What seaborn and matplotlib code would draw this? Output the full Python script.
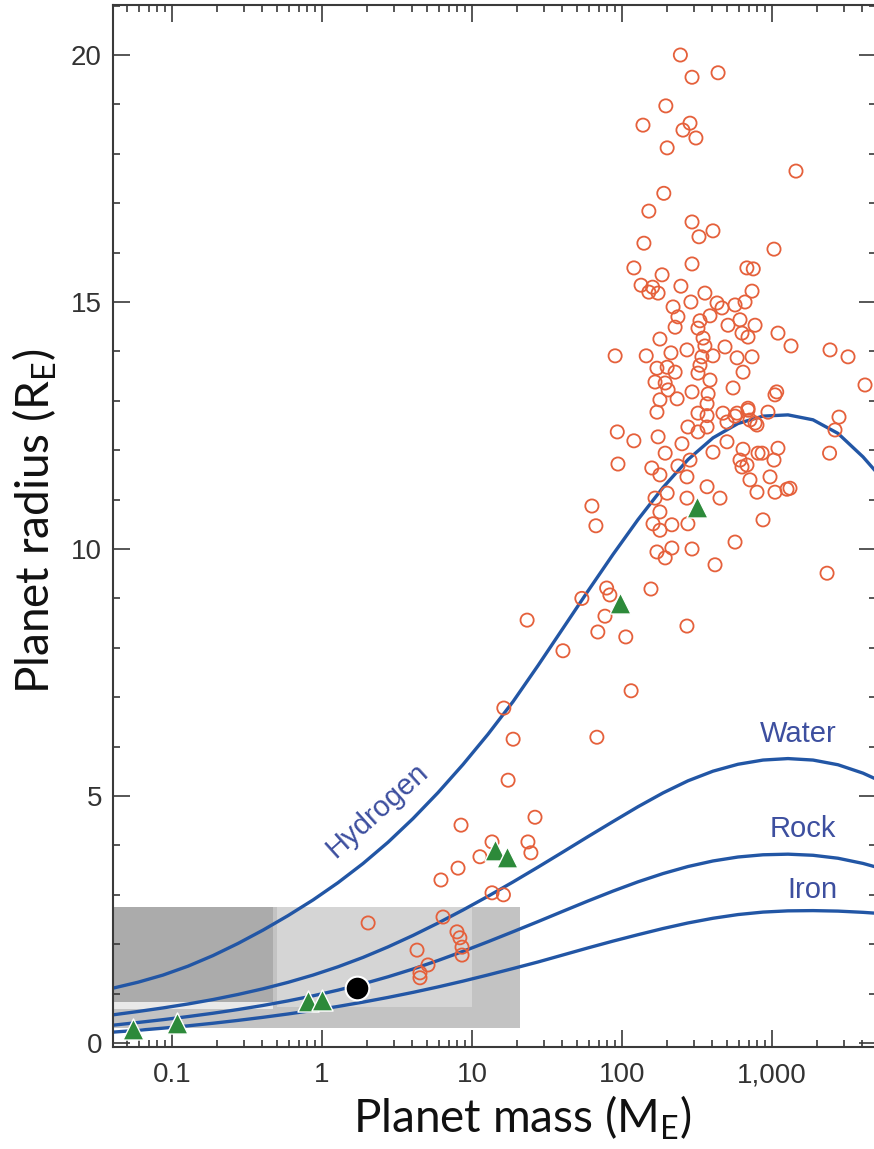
import numpy as np
import pandas as pd
import matplotlib
matplotlib.use("Agg")
import matplotlib.pyplot as plt
import seaborn as sns
from matplotlib.ticker import FixedLocator, FixedFormatter, LogLocator, MultipleLocator, NullFormatter

# ---------------- data ----------------
# composition curves: radius (Earth radii) at these masses (Earth masses)
curve_mass = [0.0404, 0.0593, 0.0871, 0.1278, 0.1877, 0.2754, 0.4043, 0.5933, 0.871, 1.278, 1.877, 2.754,
              4.043, 5.933, 8.71, 12.78, 18.77, 27.54, 40.43, 59.33, 87.1, 127.8, 187.7, 275.4, 404.3,
              593.3, 871, 1278, 1877, 2754, 4043, 4936]
hydrogen_radius = [1.11, 1.23, 1.375, 1.555, 1.77, 2.015, 2.285, 2.578, 2.895, 3.245, 3.633, 4.063,
                   4.543, 5.068, 5.638, 6.25, 6.91, 7.64, 8.395, 9.15, 9.89, 10.595, 11.245, 11.81, 12.25,
                   12.54, 12.69, 12.715, 12.615, 12.34, 11.865, 11.565]
water_radius = [0.57, 0.6375, 0.71, 0.79, 0.88, 0.9825, 1.0975, 1.2275, 1.375, 1.5425, 1.7325, 1.945,
                2.1775, 2.4275, 2.6925, 2.97, 3.26, 3.56, 3.8675, 4.1775, 4.4825, 4.7825, 5.0625, 5.3075, 5.5025,
                5.6425, 5.7275, 5.7575, 5.7275, 5.6325, 5.4625, 5.3425]
rock_radius = [0.36, 0.415, 0.4725, 0.535, 0.6025, 0.6775, 0.76, 0.8525, 0.955, 1.07, 1.1975, 1.34,
               1.4975, 1.67, 1.855, 2.05, 2.2525, 2.4575, 2.6675, 2.875, 3.075, 3.2625, 3.43, 3.5725, 3.685,
               3.765, 3.81, 3.8225, 3.80, 3.74, 3.635, 3.562]
iron_radius = [0.22, 0.2575, 0.3, 0.3475, 0.4, 0.4575, 0.52, 0.5875, 0.66, 0.74, 0.8275, 0.9225,
               1.025, 1.135, 1.2525, 1.3775, 1.5075, 1.64, 1.7825, 1.925, 2.0625, 2.1925, 2.3175, 2.43, 2.525,
               2.60, 2.65, 2.675, 2.68, 2.67, 2.645, 2.627]

curve_names = ["Hydrogen", "Water", "Rock", "Iron"]

# exoplanets (open circles)
exo_mass = [245, 293, 437, 196, 138, 284, 255, 311, 200, 1445,
            190, 151, 293, 404, 326, 140, 1031, 293, 120, 185,
            680, 750, 134, 151, 174, 247, 357, 736, 160,
            288, 219, 236, 226, 430, 464, 567, 661, 386, 331, 612, 771, 321, 509, 179, 347, 631, 692,
            90, 145, 212, 271, 357, 486, 585, 736, 341, 404,
            171, 200, 226, 331, 321, 641, 166, 194, 203, 386, 550, 293, 375, 179, 233, 369, 171, 321, 369, 471, 585, 692,
            275, 321, 501, 567, 771, 369, 93, 120, 174, 251, 194, 404, 501, 641, 807,
            94, 158, 179, 236, 271, 284, 612, 681, 631, 713, 794,
            63, 67, 166, 200, 271, 369, 450, 179, 161, 179, 215, 275, 567, 171, 194, 215, 293, 417,
            1096, 1339, 2437, 3212, 4169, 1047, 1075, 2797, 2630, 2420, 2328, 871, 1259, 1318, 1047, 970, 1096, 1031, 859, 794, 940, 692, 713,
            79, 83, 77, 69, 106, 156, 271, 54, 23.3, 40.4, 115, 16.3, 18.8, 68, 17.4, 26.3, 8.45, 23.6, 24.7, 11.3, 13.6, 8.07, 6.21, 13.6, 16.2,
            2.03, 6.41, 7.94, 8.3, 8.58, 8.58, 4.3, 5.09, 4.5, 4.5]
exo_radius = [20.0, 19.55, 19.64, 18.97, 18.58, 18.62, 18.48, 18.32, 18.12, 17.65,
              17.2, 16.84, 16.62, 16.44, 16.32, 16.19, 16.07, 15.77, 15.69, 15.55,
              15.69, 15.67, 15.34, 15.2, 15.18, 15.32, 15.18, 15.22, 15.3,
              15.0, 14.9, 14.7, 14.49, 14.98, 14.88, 14.94, 15.0, 14.72, 14.62, 14.64, 14.53, 14.47, 14.53, 14.25, 14.27, 14.37, 14.29,
              13.91, 13.91, 13.97, 14.03, 14.11, 14.09, 13.87, 13.89, 13.89, 13.91,
              13.66, 13.68, 13.58, 13.72, 13.56, 13.58, 13.38, 13.36, 13.22, 13.42, 13.26, 13.18, 13.14, 13.02, 13.04, 12.94, 12.77, 12.75, 12.7, 12.75, 12.75, 12.81,
              12.47, 12.37, 12.57, 12.69, 12.55, 12.47, 12.37, 12.19, 12.27, 12.13, 11.94, 11.96, 12.17, 12.02, 11.94,
              11.72, 11.64, 11.5, 11.68, 11.46, 11.8, 11.8, 11.7, 11.66, 11.4, 11.15,
              10.87, 10.47, 11.03, 11.13, 11.03, 11.26, 11.03, 10.75, 10.51, 10.38, 10.49, 10.51, 10.14, 9.94, 9.82, 10.02, 10.0, 9.68,
              14.37, 14.11, 14.03, 13.89, 13.32, 13.12, 13.18, 12.67, 12.41, 11.94, 9.51, 10.59, 11.21, 11.23, 11.15, 11.46, 12.04, 11.8, 11.94, 12.51, 12.77, 12.85, 12.61,
              9.21, 9.07, 8.64, 8.32, 8.22, 9.19, 8.44, 9.0, 8.56, 7.94, 7.13, 6.78, 6.15, 6.19, 5.32, 4.57, 4.41, 4.07, 3.85, 3.77, 4.07, 3.54, 3.3, 3.04, 3.0,
              2.43, 2.55, 2.25, 2.13, 1.94, 1.78, 1.88, 1.58, 1.42, 1.32]

# solar-system planets (green triangles)
solar_mass = [0.055, 0.108, 0.81, 1.0, 14.2, 17.1, 97, 316]
solar_radius = [0.28, 0.4, 0.85, 0.87, 3.9, 3.77, 8.9, 10.85]

# highlighted planet (black dot)
special_mass = [1.71]
special_radius = [1.11]

# shaded regions
box_mass_min = [0.04, 0.5, 0.04, 0.04]
box_mass_max = [20.9, 10.0, 0.47, 0.47]
box_radius_min = [0.30, 0.72, 0.68, 0.84]
box_radius_max = [2.75, 2.75, 0.84, 2.75]
box_colors = ["#c3c3c3", "#d5d5d5", "#e9e9e9", "#ababab"]

xtick_values = [0.1, 1, 10, 100, 1000]
xtick_labels = ["0.1", "1", "10", "100", "1,000"]
ytick_values = [0, 5, 10, 15, 20]
ytick_labels = ["0", "5", "10", "15", "20"]

# ---------------- style ----------------
sns.set_style("ticks")
plt.rcParams['font.family'] = ['Liberation Sans', 'DejaVu Sans']
plt.rcParams['mathtext.fontset'] = 'custom'
plt.rcParams['mathtext.rm'] = 'Lato'
plt.rcParams['mathtext.it'] = 'Lato:italic'
plt.rcParams['mathtext.bf'] = 'Lato:bold'

W, H = 874, 1149
fig = plt.figure(figsize=(W / 100, H / 100), dpi=100)
ax_l, ax_r, ax_t, ax_b = 113, 876, 5, 1047
ax = fig.add_axes([ax_l / W, (H - ax_b) / H, (ax_r - ax_l) / W, (ax_b - ax_t) / H])
ax.set_facecolor("white")
ax.set_xscale("log")

# shaded boxes
for x0, x1, y0, y1, c in zip(box_mass_min, box_mass_max, box_radius_min, box_radius_max, box_colors):
    ax.fill_between([x0, x1], [y0, y0], [y1, y1], color=c, linewidth=0, zorder=0.5)

curve_color = "#2256a5"
curves = pd.concat([
    pd.DataFrame({"mass": curve_mass, "radius": hydrogen_radius, "curve": "Hydrogen"}),
    pd.DataFrame({"mass": curve_mass, "radius": water_radius, "curve": "Water"}),
    pd.DataFrame({"mass": curve_mass, "radius": rock_radius, "curve": "Rock"}),
    pd.DataFrame({"mass": curve_mass, "radius": iron_radius, "curve": "Iron"}),
])
for name in curve_names:
    sub = curves[curves["curve"] == name]
    sns.lineplot(data=sub, x="mass", y="radius", sort=False, estimator=None,
                 color=curve_color, linewidth=2.4, ax=ax, zorder=2)
for ln in ax.lines:
    ln.set_solid_joinstyle("round")
    ln.set_solid_capstyle("round")

sns.scatterplot(x=exo_mass, y=exo_radius, s=90, marker="o", facecolor="none",
                edgecolor="#e5603b", linewidth=1.3, ax=ax, zorder=3)
sns.scatterplot(x=solar_mass, y=solar_radius, s=230, marker="^", color="#2d8a3a",
                edgecolor="white", linewidth=1.0, ax=ax, zorder=4)
sns.scatterplot(x=special_mass, y=special_radius, s=290, marker="o", color="black",
                edgecolor="white", linewidth=1.5, ax=ax, zorder=4)

# curve labels
label_color = "#3d4f9f"
ax.text(2.33, 4.72, "Hydrogen", rotation=42, rotation_mode="anchor", ha="center", va="center",
        fontsize=21, color=label_color, zorder=5)
ax.text(1490, 6.09, "Water", ha="center", va="baseline", fontsize=21, color=label_color, zorder=5)
ax.text(1610, 4.17, "Rock", ha="center", va="baseline", fontsize=21, color=label_color, zorder=5)
ax.text(1848, 2.94, "Iron", ha="center", va="baseline", fontsize=21, color=label_color, zorder=5)

# axes limits and ticks
ax.set_xlim(10 ** ((ax_l - 322) / 150), 10 ** ((ax_r - 322) / 150))
ax.set_ylim((1043 - ax_b) / 49.4, (1043 - ax_t) / 49.4)
ax.xaxis.set_major_locator(FixedLocator(xtick_values))
ax.xaxis.set_major_formatter(FixedFormatter(xtick_labels))
ax.xaxis.set_minor_locator(LogLocator(base=10, subs=np.arange(2, 10), numticks=20))
ax.xaxis.set_minor_formatter(NullFormatter())
ax.yaxis.set_major_locator(FixedLocator(ytick_values))
ax.yaxis.set_major_formatter(FixedFormatter(ytick_labels))
ax.yaxis.set_minor_locator(MultipleLocator(1))

spine_c = "#3a3a3a"
for s in ax.spines.values():
    s.set_color(spine_c)
    s.set_linewidth(1.5)
ax.tick_params(which="both", direction="in", top=True, right=True, color=spine_c, width=1.2,
               labelcolor="#333333", labelsize=20)
ax.tick_params(which="major", length=12)
ax.tick_params(which="minor", length=5)
ax.tick_params(axis="x", which="major", pad=11)
ax.tick_params(axis="y", which="major", pad=8)

ax.set_xlabel("Planet mass (M$_\\mathrm{E}$)", fontsize=33, family=["Lato", "DejaVu Sans"], color="#111111")
ax.set_ylabel("Planet radius (R$_\\mathrm{E}$)", fontsize=33, family=["Lato", "DejaVu Sans"], color="#111111")
ax.xaxis.set_label_coords((522 - ax_l) / (ax_r - ax_l), (ax_b - 1133) / (ax_b - ax_t))
ax.xaxis.label.set_va("baseline")
ax.yaxis.set_label_coords((50 - ax_l) / (ax_r - ax_l), (ax_b - 521) / (ax_b - ax_t))
ax.yaxis.label.set_va("baseline")

fig.savefig("out.png", dpi=100, facecolor="white")
